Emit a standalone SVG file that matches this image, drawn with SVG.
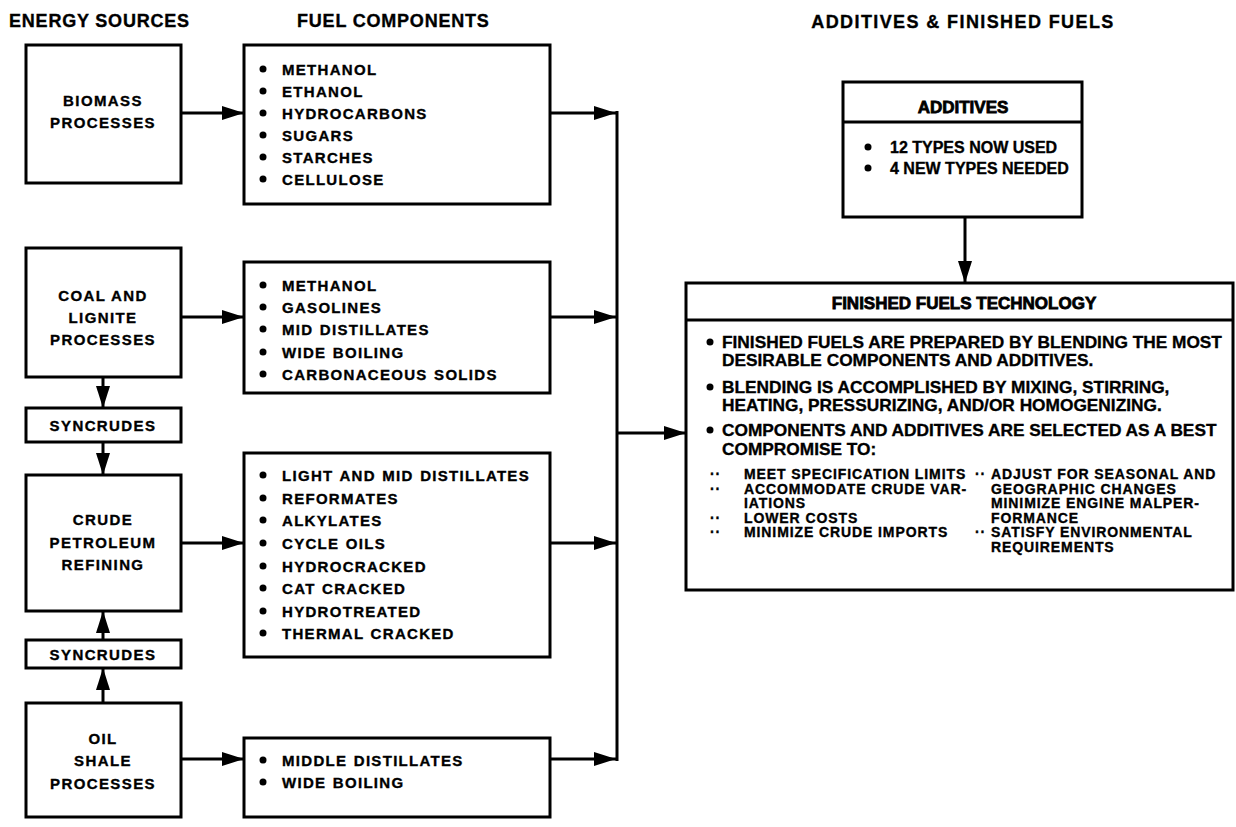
<svg xmlns="http://www.w3.org/2000/svg" width="1236" height="827" viewBox="0 0 1236 827">
<defs>
<marker id="ah" markerUnits="userSpaceOnUse" markerWidth="22" markerHeight="14" refX="22" refY="7" orient="auto">
<path d="M0,0 L22,7 L0,14 z" fill="#000"/>
</marker>
<style>
.box{fill:#fff;stroke:#000;stroke-width:3}
.ln{fill:none;stroke:#000;stroke-width:3}
text{font-family:"Liberation Sans",Arial,sans-serif;font-weight:bold;fill:#000;stroke:#000;stroke-width:0.35}
.hd{font-size:18px;letter-spacing:0.8px}
.lb{font-size:15px;letter-spacing:1.4px;text-anchor:middle}
.it{font-size:15px;letter-spacing:1.3px;word-spacing:1px}
.ad{font-size:16px}
.th{font-size:17px;stroke-width:0.8;text-anchor:middle}
.ff{font-size:17.3px}
.sb{font-size:14px;letter-spacing:0.9px}
</style>
</defs>
<rect width="1236" height="827" fill="#fff"/>

<g id="headings">
<text class="hd" x="9" y="27">ENERGY SOURCES</text>
<text class="hd" x="297" y="27">FUEL COMPONENTS</text>
<text class="hd" x="963" y="28" style="text-anchor:middle;letter-spacing:1.4px">ADDITIVES &amp; FINISHED FUELS</text>
</g>

<g id="biomass">
<rect class="box" x="26" y="45" width="155" height="138"/>
<text class="lb" x="103" y="106">BIOMASS</text>
<text class="lb" x="103" y="128">PROCESSES</text>
</g>

<g id="coal">
<rect class="box" x="26" y="248" width="155" height="129"/>
<text class="lb" x="103" y="301">COAL AND</text>
<text class="lb" x="103" y="323">LIGNITE</text>
<text class="lb" x="103" y="345">PROCESSES</text>
</g>

<g id="syncrudes1">
<rect class="box" x="26" y="408" width="155" height="34"/>
<text class="lb" x="103" y="431">SYNCRUDES</text>
</g>

<g id="crude">
<rect class="box" x="26" y="475" width="155" height="136"/>
<text class="lb" x="103" y="525">CRUDE</text>
<text class="lb" x="103" y="548">PETROLEUM</text>
<text class="lb" x="103" y="570">REFINING</text>
</g>

<g id="syncrudes2">
<rect class="box" x="26" y="640" width="155" height="28"/>
<text class="lb" x="103" y="660">SYNCRUDES</text>
</g>

<g id="oilshale">
<rect class="box" x="26" y="703" width="155" height="114"/>
<text class="lb" x="103" y="744">OIL</text>
<text class="lb" x="103" y="766">SHALE</text>
<text class="lb" x="103" y="789">PROCESSES</text>
</g>

<g id="fuel1">
<rect class="box" x="244" y="45" width="306" height="159"/>
<g fill="#000"><circle cx="263" cy="69" r="3.5"/><circle cx="263" cy="91" r="3.5"/><circle cx="263" cy="113" r="3.5"/><circle cx="263" cy="135" r="3.5"/><circle cx="263" cy="157" r="3.5"/><circle cx="263" cy="179" r="3.5"/></g>
<text class="it" x="282" y="75">METHANOL</text>
<text class="it" x="282" y="97">ETHANOL</text>
<text class="it" x="282" y="119">HYDROCARBONS</text>
<text class="it" x="282" y="141">SUGARS</text>
<text class="it" x="282" y="163">STARCHES</text>
<text class="it" x="282" y="185">CELLULOSE</text>
</g>

<g id="fuel2">
<rect class="box" x="244" y="262" width="306" height="131"/>
<g fill="#000"><circle cx="263" cy="285" r="3.5"/><circle cx="263" cy="307" r="3.5"/><circle cx="263" cy="329" r="3.5"/><circle cx="263" cy="352" r="3.5"/><circle cx="263" cy="374" r="3.5"/></g>
<text class="it" x="282" y="291">METHANOL</text>
<text class="it" x="282" y="313">GASOLINES</text>
<text class="it" x="282" y="335">MID DISTILLATES</text>
<text class="it" x="282" y="358">WIDE BOILING</text>
<text class="it" x="282" y="380">CARBONACEOUS SOLIDS</text>
</g>

<g id="fuel3">
<rect class="box" x="244" y="453" width="306" height="204"/>
<g fill="#000"><circle cx="263" cy="475" r="3.5"/><circle cx="263" cy="498" r="3.5"/><circle cx="263" cy="520" r="3.5"/><circle cx="263" cy="543" r="3.5"/><circle cx="263" cy="566" r="3.5"/><circle cx="263" cy="588" r="3.5"/><circle cx="263" cy="611" r="3.5"/><circle cx="263" cy="633" r="3.5"/></g>
<text class="it" x="282" y="481">LIGHT AND MID DISTILLATES</text>
<text class="it" x="282" y="504">REFORMATES</text>
<text class="it" x="282" y="526">ALKYLATES</text>
<text class="it" x="282" y="549">CYCLE OILS</text>
<text class="it" x="282" y="572">HYDROCRACKED</text>
<text class="it" x="282" y="594">CAT CRACKED</text>
<text class="it" x="282" y="617">HYDROTREATED</text>
<text class="it" x="282" y="639">THERMAL CRACKED</text>
</g>

<g id="fuel4">
<rect class="box" x="244" y="738" width="306" height="79"/>
<g fill="#000"><circle cx="263" cy="760" r="3.5"/><circle cx="263" cy="782" r="3.5"/></g>
<text class="it" x="282" y="766">MIDDLE DISTILLATES</text>
<text class="it" x="282" y="788">WIDE BOILING</text>
</g>

<g id="additives">
<rect class="box" x="843" y="82" width="239" height="135"/>
<line class="ln" x1="843" y1="122" x2="1082" y2="122"/>
<text class="th" x="963" y="113">ADDITIVES</text>
<g fill="#000"><circle cx="868" cy="147" r="3.5"/><circle cx="868" cy="168" r="3.5"/></g>
<text class="ad" x="890" y="153">12 TYPES NOW USED</text>
<text class="ad" x="890" y="174">4 NEW TYPES NEEDED</text>
</g>

<g id="finished">
<rect class="box" x="686" y="283" width="547" height="307"/>
<line class="ln" x1="686" y1="320" x2="1233" y2="320"/>
<text class="th" x="964" y="309">FINISHED FUELS TECHNOLOGY</text>
<g fill="#000"><circle cx="710" cy="342" r="3.5"/><circle cx="710" cy="387" r="3.5"/><circle cx="710" cy="430" r="3.5"/></g>
<text class="ff" x="722" y="348">FINISHED FUELS ARE PREPARED BY BLENDING THE MOST</text>
<text class="ff" x="722" y="366">DESIRABLE COMPONENTS AND ADDITIVES.</text>
<text class="ff" x="722" y="393">BLENDING IS ACCOMPLISHED BY MIXING, STIRRING,</text>
<text class="ff" x="722" y="411">HEATING, PRESSURIZING, AND/OR HOMOGENIZING.</text>
<text class="ff" x="722" y="436">COMPONENTS AND ADDITIVES ARE SELECTED AS A BEST</text>
<text class="ff" x="722" y="455">COMPROMISE TO:</text>
<text class="sb" x="710" y="479">··</text>
<text class="sb" x="744" y="479">MEET SPECIFICATION LIMITS</text>
<text class="sb" x="710" y="494">··</text>
<text class="sb" x="744" y="494">ACCOMMODATE CRUDE VAR-</text>
<text class="sb" x="744" y="508">IATIONS</text>
<text class="sb" x="710" y="523">··</text>
<text class="sb" x="744" y="523">LOWER COSTS</text>
<text class="sb" x="710" y="537">··</text>
<text class="sb" x="744" y="537">MINIMIZE CRUDE IMPORTS</text>
<text class="sb" x="975" y="479">··</text>
<text class="sb" x="991" y="479">ADJUST FOR SEASONAL AND</text>
<text class="sb" x="991" y="494">GEOGRAPHIC CHANGES</text>
<text class="sb" x="991" y="508">MINIMIZE ENGINE MALPER-</text>
<text class="sb" x="991" y="523">FORMANCE</text>
<text class="sb" x="975" y="537">··</text>
<text class="sb" x="991" y="537">SATISFY ENVIRONMENTAL</text>
<text class="sb" x="991" y="552">REQUIREMENTS</text>
</g>

<g id="connectors">
<line class="ln" x1="181" y1="113" x2="244" y2="113" marker-end="url(#ah)"/>
<line class="ln" x1="181" y1="317" x2="244" y2="317" marker-end="url(#ah)"/>
<line class="ln" x1="181" y1="543" x2="244" y2="543" marker-end="url(#ah)"/>
<line class="ln" x1="181" y1="759" x2="244" y2="759" marker-end="url(#ah)"/>
<line class="ln" x1="550" y1="113" x2="616" y2="113" marker-end="url(#ah)"/>
<line class="ln" x1="550" y1="317" x2="616" y2="317" marker-end="url(#ah)"/>
<line class="ln" x1="550" y1="543" x2="616" y2="543" marker-end="url(#ah)"/>
<line class="ln" x1="550" y1="759" x2="616" y2="759" marker-end="url(#ah)"/>
<line class="ln" x1="617" y1="111" x2="617" y2="761"/>
<line class="ln" x1="617" y1="433" x2="686" y2="433" marker-end="url(#ah)"/>
<line class="ln" x1="103" y1="377" x2="103" y2="408" marker-end="url(#ah)"/>
<line class="ln" x1="103" y1="442" x2="103" y2="475" marker-end="url(#ah)"/>
<line class="ln" x1="103" y1="640" x2="103" y2="611" marker-end="url(#ah)"/>
<line class="ln" x1="103" y1="703" x2="103" y2="668" marker-end="url(#ah)"/>
<line class="ln" x1="965" y1="217" x2="965" y2="283" marker-end="url(#ah)"/>
</g>
</svg>
